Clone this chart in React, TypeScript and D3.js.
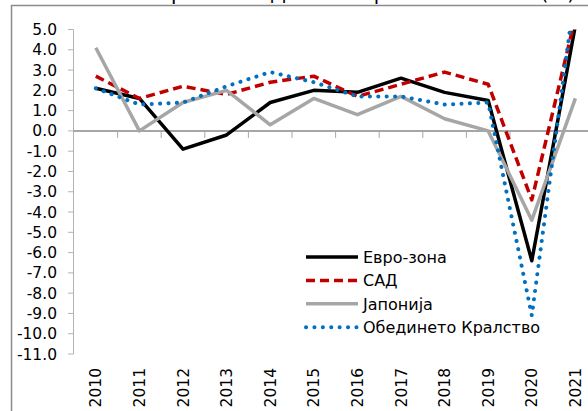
import React from 'react';
import * as d3 from 'd3';

const years = ['2010', '2011', '2012', '2013', '2014', '2015', '2016', '2017', '2018', '2019', '2020', '2021'];
const euroZone = [2.1, 1.6, -0.9, -0.2, 1.4, 2.0, 1.9, 2.6, 1.9, 1.5, -6.4, 5.2];
const usa = [2.7, 1.6, 2.2, 1.8, 2.4, 2.7, 1.7, 2.3, 2.9, 2.3, -3.4, 5.6];
const japan = [4.1, 0.0, 1.4, 2.0, 0.3, 1.6, 0.8, 1.7, 0.6, 0.0, -4.4, 1.6];
const uk = [2.1, 1.3, 1.4, 2.2, 2.9, 2.4, 1.7, 1.7, 1.3, 1.4, -9.1, 7.0];
const yTicks = d3.range(5, -12, -1);

const series = [
  { name: 'Евро-зона', values: euroZone, color: '#000000', dash: 'none', cap: 'butt' },
  { name: 'САД', values: usa, color: '#c00000', dash: '9 5', cap: 'butt' },
  { name: 'Јапонија', values: japan, color: '#a6a6a6', dash: 'none', cap: 'butt' },
  { name: 'Обединето Кралство', values: uk, color: '#0070c0', dash: '0.1 8.3', cap: 'round' },
];

const W = 588;
const H = 411;
const font = '"DejaVu Sans", Verdana, sans-serif';

export default function App() {
  const x = d3.scaleBand<string>().domain(years).range([74, 74 + 12 * 43.6]);
  const y = d3.scaleLinear().domain([-11, 5]).range([354, 29.5]);
  const cx = (d: string) => (x(d) ?? 0) + x.bandwidth() / 2;

  const line = (vals: number[]) =>
    d3.line<number>().x((_, i) => cx(years[i])).y((v) => y(v))(vals) ?? '';

  return (
    <svg width={W} height={H} style={{ position: 'absolute', left: 0, top: 0, background: '#fff' }}>
      <defs>
        <clipPath id="plot">
          <rect x={60} y={y(5)} width={560} height={y(-11) - y(5) + 30} />
        </clipPath>
      </defs>
      <rect x={0} y={0} width={W} height={H} fill="#fff" />
      {/* title, cut off at the top like in the source */}
      <text x={575} y={-0.5} textAnchor="end" fontFamily={font} fontSize={20} fill="#000">
        Реален раст на БДП во избрани економии (%)
      </text>
      <rect x={11.5} y={5.5} width={700} height={500} fill="none" stroke="#8c8c8c" strokeWidth={1.5} />

      {/* y axis */}
      <line x1={73.5} x2={73.5} y1={y(5)} y2={y(-11)} stroke="#b3b3b3" strokeWidth={1} />
      {yTicks.map((t) => (
        <g key={t}>
          <line x1={68} x2={73.5} y1={y(t)} y2={y(t)} stroke="#b3b3b3" strokeWidth={1} />
          <text x={57} y={y(t)} dy="0.36em" textAnchor="end" fontFamily={font} fontSize={15.5} fill="#000">
            {t.toFixed(1)}
          </text>
        </g>
      ))}

      {/* x axis at zero */}
      <line x1={73.5} x2={W} y1={y(0)} y2={y(0)} stroke="#a6a6a6" strokeWidth={2} />
      {years.slice(1).map((yr) => (
        <line key={yr} x1={x(yr)} x2={x(yr)} y1={y(0)} y2={y(0) + 7} stroke="#a6a6a6" strokeWidth={1} />
      ))}
      {years.map((yr) => (
        <text
          key={yr}
          transform={`translate(${cx(yr)},368) rotate(-90)`}
          dy="0.36em"
          textAnchor="end"
          fontFamily={font}
          fontSize={15.5}
          fill="#000"
        >
          {yr}
        </text>
      ))}

      {/* series */}
      <g clipPath="url(#plot)">
        {series.map((s) => (
          <path
            key={s.name}
            d={line(s.values)}
            fill="none"
            stroke={s.color}
            strokeWidth={s.cap === 'round' ? 4 : 3.5}
            strokeDasharray={s.dash}
            strokeLinecap={s.cap as any}
            strokeLinejoin="round"
          />
        ))}
      </g>

      {/* legend */}
      {series.map((s, i) => {
        const ly = 257 + i * 23.4;
        return (
          <g key={s.name}>
            <line
              x1={306}
              x2={358}
              y1={ly}
              y2={ly}
              stroke={s.color}
              strokeWidth={s.cap === 'round' ? 4 : 3.5}
              strokeDasharray={s.dash}
              strokeLinecap={s.cap as any}
            />
            <text x={363} y={ly} dy="0.36em" fontFamily={font} fontSize={16} fill="#000">
              {s.name}
            </text>
          </g>
        );
      })}
    </svg>
  );
}
